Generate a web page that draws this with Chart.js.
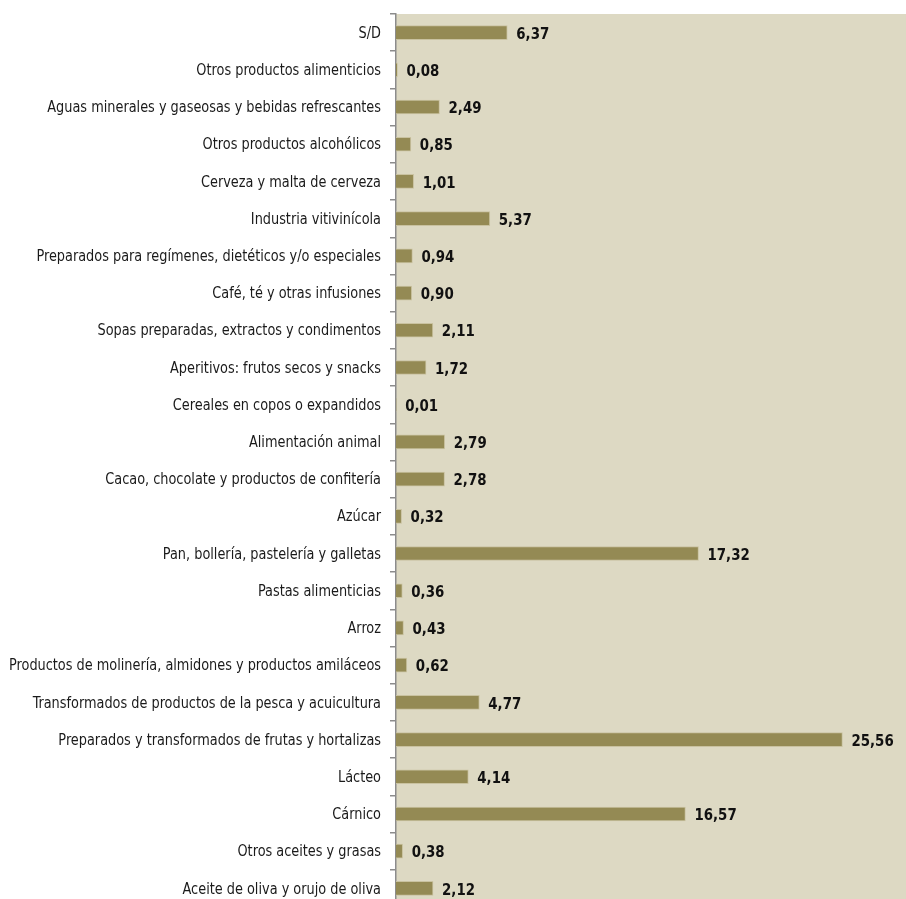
<!DOCTYPE html>
<html>
<head>
<meta charset="utf-8">
<script src="https://cdn.jsdelivr.net/npm/chart.js@4"></script>
<style>
  body { margin: 0; overflow: hidden; background: #fff; }
  #wrap { width: 906px; height: 907px; }
</style>
</head>
<body>
<div id="wrap"><canvas id="sector_chart"></canvas></div>
<script>
const sectores = [
    'S/D',
    'Otros productos alimenticios',
    'Aguas minerales y gaseosas y bebidas refrescantes',
    'Otros productos alcohólicos',
    'Cerveza y malta de cerveza',
    'Industria vitivinícola',
    'Preparados para regímenes, dietéticos y/o especiales',
    'Café, té y otras infusiones',
    'Sopas preparadas, extractos y condimentos',
    'Aperitivos: frutos secos y snacks',
    'Cereales en copos o expandidos',
    'Alimentación animal',
    'Cacao, chocolate y productos de confitería',
    'Azúcar',
    'Pan, bollería, pastelería y galletas',
    'Pastas alimenticias',
    'Arroz',
    'Productos de molinería, almidones y productos amiláceos',
    'Transformados de productos de la pesca y acuicultura',
    'Preparados y transformados de frutas y hortalizas',
    'Lácteo',
    'Cárnico',
    'Otros aceites y grasas',
    'Aceite de oliva y orujo de oliva'
];
const porcentajes = [6.37, 0.08, 2.49, 0.85, 1.01, 5.37, 0.94, 0.90, 2.11, 1.72, 0.01, 2.79, 2.78, 0.32,
    17.32, 0.36, 0.43, 0.62, 4.77, 25.56, 4.14, 16.57, 0.38, 2.12];

const font_narrow = "'Liberation Sans Narrow', 'DejaVu Sans Condensed', 'Roboto Condensed', sans-serif";

// fondo beige del area del grafico
const fondo = {
    id: 'fondo',
    beforeDraw(chart){
        const a = chart.chartArea;
        const ctx = chart.ctx;
        ctx.save();
        ctx.fillStyle = '#ddd9c3';
        ctx.fillRect(a.left, a.top, chart.width - a.left, chart.height - a.top);
        ctx.restore();
    }
};

// texto estrecho (el original viene comprimido en horizontal)
function texto_estrecho(ctx, txt, x, y, sx){
    ctx.save();
    ctx.translate(x, y);
    ctx.scale(sx, 1);
    ctx.fillText(txt, 0, 0);
    ctx.restore();
}

// nombres de sector y etiquetas de valor
const etiquetas = {
    id: 'etiquetas',
    afterDatasetsDraw(chart){
        const ctx = chart.ctx;
        const meta = chart.getDatasetMeta(0);
        const y_scale = chart.scales.y;
        ctx.save();
        ctx.fillStyle = '#1a1a1a';
        ctx.textBaseline = 'middle';

        ctx.font = '16px ' + font_narrow;
        ctx.textAlign = 'right';
        const sx_nombre = 372 / ctx.measureText(sectores[17]).width;
        sectores.forEach(function(s, i){
            texto_estrecho(ctx, s, y_scale.right - 15, y_scale.getPixelForTick(i) + 1, sx_nombre);
        });

        ctx.font = 'bold 16px ' + font_narrow;
        ctx.textAlign = 'left';
        ctx.fillStyle = '#111';
        const sx_valor = 33 / ctx.measureText('6,37').width;
        meta.data.forEach(function(bar, i){
            const txt = porcentajes[i].toFixed(2).replace('.', ',');
            texto_estrecho(ctx, txt, bar.x + 9, bar.y + 2, sx_valor);
        });
        ctx.restore();
    }
};

const sector_chart = new Chart(document.getElementById('sector_chart').getContext('2d'), {
    type: 'bar',
    data: {
        labels: sectores,
        datasets: [{
            data: porcentajes,
            backgroundColor: '#948a54',
            borderColor: '#c9c2a0',
            borderWidth: 1,
            barThickness: 14
        }]
    },
    options: {
        indexAxis: 'y',
        responsive: true,
        maintainAspectRatio: false,
        animation: false,
        layout: { padding: { top: 14, left: 0, right: 0, bottom: 0 } },
        plugins: {
            legend: { display: false },
            tooltip: { enabled: false }
        },
        scales: {
            x: {
                display: false,
                min: 0,
                max: 29.2
            },
            y: {
                afterFit(scale){ scale.width = 396; },
                border: { display: true, color: '#8c8c8c', width: 1.5 },
                grid: {
                    offset: true,
                    drawOnChartArea: false,
                    drawTicks: true,
                    tickLength: 6,
                    color: '#8c8c8c',
                    lineWidth: 1.5
                },
                ticks: {
                    display: false,
                    autoSkip: false
                }
            }
        }
    },
    plugins: [fondo, etiquetas]
});
</script>
</body>
</html>
